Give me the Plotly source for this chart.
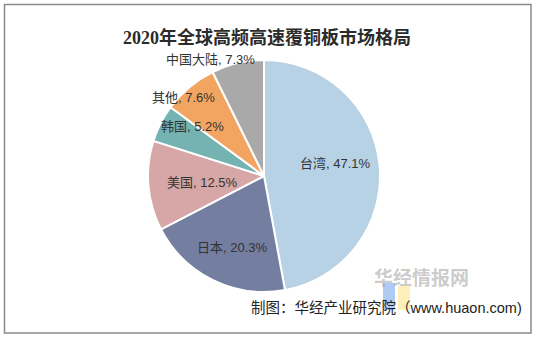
import math
import plotly.graph_objects as go

W, H = 535, 338

labels = ["台湾", "日本", "美国", "韩国", "其他", "中国大陆"]
values = [47.1, 20.3, 12.5, 5.2, 7.6, 7.3]
colors = ["#b7d2e4", "#737ea1", "#d6a7a6", "#74b3b1", "#f2a560", "#a9a9a9"]

title_text = "2020年全球高频高速覆铜板市场格局"
source_text = "制图：华经产业研究院（www.huaon.com)"
watermark_text = "华经情报网"

# pie geometry (pixels)
cx, cy, R = 264, 176, 116
# label placement: radius (fraction of R) and small pixel nudges
label_r = [0.62, 0.75, 0.855, 1.0, 1.035, 1.18]
label_dx = [0, 7, 0, -2, -3, -22]
label_dy = [6, -3, 2, -3, -4, -7]

fig = go.Figure()
fig.add_trace(go.Pie(
    labels=labels, values=values, sort=False, direction="clockwise", rotation=0,
    marker=dict(colors=colors, line=dict(color="white", width=2)),
    textinfo="none", hoverinfo="label+value", showlegend=False,
    domain=dict(x=[(cx - R) / W, (cx + R) / W],
                y=[(H - cy - R) / H, (H - cy + R) / H]),
))

total = sum(values)
cum = 0.0
annotations = []
for i, (lab, v) in enumerate(zip(labels, values)):
    mid = (cum + v / 2) / total * 2 * math.pi
    cum += v
    r = R * label_r[i]
    px = cx + r * math.sin(mid)
    py = cy - r * math.cos(mid)
    annotations.append(dict(
        x=px / W, y=1 - py / H, xref="paper", yref="paper",
        text=f"{lab}, {v:.1f}%", showarrow=False,
        xshift=label_dx[i], yshift=label_dy[i],
        font=dict(size=13, color="#333333",
                  family="Liberation Sans, Arial, Noto Sans CJK SC"),
    ))

annotations.append(dict(
    x=267 / W, y=1 - 25 / H, xref="paper", yref="paper", showarrow=False,
    text=f"<b>{title_text}</b>",
    font=dict(size=18, color="#2b2b2b",
              family="Liberation Serif, Noto Sans CJK SC"),
))
annotations.append(dict(
    x=471 / W, y=1 - 292 / H, xref="paper", yref="paper", showarrow=False,
    text=f"<b>{watermark_text}</b>",
    font=dict(size=19, color="rgba(160,160,160,0.55)", family="Noto Sans CJK SC"),
))
annotations.append(dict(
    x=524 / W, y=1 - 318 / H, xref="paper", yref="paper", showarrow=False,
    xanchor="right", text=source_text,
    font=dict(size=14.5, color="#222222",
              family="Liberation Sans, Noto Sans CJK SC"),
))

shapes = [
    dict(type="rect", xref="paper", yref="paper",
         x0=4.5 / W, x1=531 / W, y0=1 - 333 / H, y1=1 - 4.5 / H,
         line=dict(color="#8a8a8a", width=1.5), fillcolor="rgba(0,0,0,0)",
         layer="below"),
    dict(type="rect", xref="paper", yref="paper",
         x0=383 / W, x1=395 / W, y0=1 - 310 / H, y1=1 - 283 / H,
         line=dict(width=0), fillcolor="rgba(110,160,235,0.55)", layer="below"),
    dict(type="rect", xref="paper", yref="paper",
         x0=398 / W, x1=410 / W, y0=1 - 310 / H, y1=1 - 286 / H,
         line=dict(width=0), fillcolor="rgba(250,225,130,0.55)", layer="below"),
]

fig.update_layout(
    width=W, height=H, margin=dict(l=0, r=0, t=0, b=0),
    paper_bgcolor="white", plot_bgcolor="white",
    annotations=annotations, shapes=shapes,
)

fig.write_html("out.html")
